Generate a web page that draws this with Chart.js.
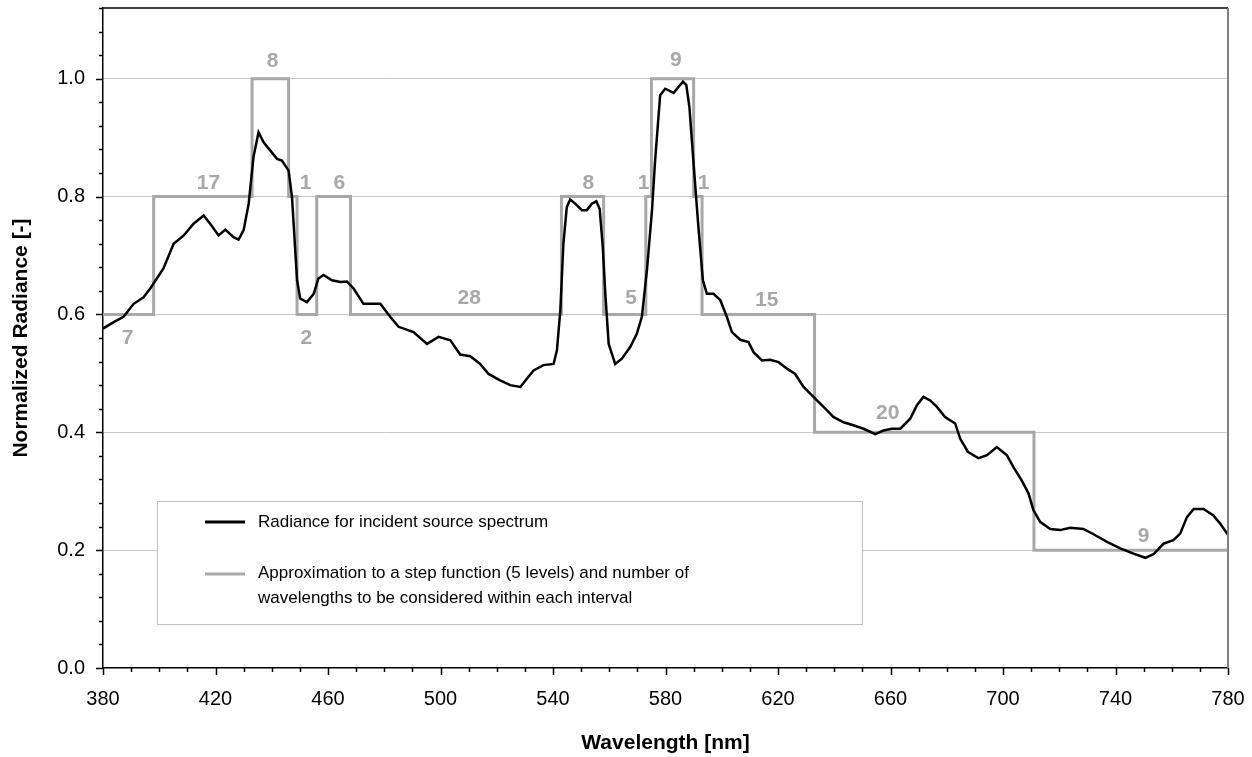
<!DOCTYPE html>
<html>
<head>
<meta charset="utf-8">
<script src="https://cdn.jsdelivr.net/npm/chart.js@4.4.0/dist/chart.umd.min.js"></script>
<style>
    html, body { margin: 0; padding: 0; background: #ffffff; }
    #wrap { width: 1252px; height: 757px; position: relative; }
</style>
</head>
<body>
<div id="wrap"><canvas id="spectrumChart"></canvas></div>
<script>
// radiance spectrum
const specWl = [
    380.0, 383.8, 387.3, 390.9, 394.4, 396.8, 401.5, 405.1, 408.7, 412.2,
    415.8, 418.1, 421.1, 423.5, 426.4, 428.2, 430.0, 431.8, 433.5, 435.3,
    437.1, 439.5, 441.9, 443.6, 446.0, 447.2, 449.0, 450.1, 452.5, 454.9,
    456.6, 458.4, 461.4, 464.4, 466.7, 469.1, 472.6, 476.2, 478.6, 482.1,
    485.1, 490.4, 495.2, 499.3, 503.5, 507.0, 510.6, 514.1, 517.1, 521.2,
    524.8, 528.4, 530.7, 533.1, 536.6, 540.2, 541.4, 542.6, 543.7, 544.9,
    546.1, 547.9, 550.3, 552.0, 553.8, 555.4, 556.6, 557.7, 558.6, 559.8,
    562.1, 564.5, 567.5, 569.8, 571.6, 573.4, 575.2, 576.3, 578.1, 579.9,
    582.9, 584.6, 586.2, 587.4, 588.5, 589.9, 591.7, 593.3, 594.7, 597.1,
    599.5, 601.8, 603.6, 606.6, 609.5, 611.3, 614.3, 617.2, 620.2, 623.2,
    626.1, 629.1, 632.6, 636.2, 639.7, 643.3, 646.8, 650.4, 654.6, 657.5,
    660.5, 663.5, 667.0, 669.4, 671.7, 674.1, 676.5, 679.4, 683.0, 684.8,
    687.5, 691.3, 694.3, 697.8, 701.4, 703.7, 706.7, 709.1, 710.8, 713.2,
    716.8, 720.3, 723.9, 728.6, 732.2, 737.0, 741.7, 746.4, 750.6, 753.5,
    757.1, 760.6, 763.0, 765.4, 767.8, 771.3, 774.8, 777.2, 780.0
];
const specVal = [
    0.576, 0.587, 0.596, 0.618, 0.629, 0.644, 0.678, 0.720, 0.734, 0.754,
    0.768, 0.754, 0.734, 0.744, 0.731, 0.727, 0.743, 0.788, 0.867, 0.909,
    0.892, 0.878, 0.864, 0.861, 0.844, 0.799, 0.658, 0.627, 0.621, 0.635,
    0.661, 0.667, 0.658, 0.655, 0.656, 0.644, 0.618, 0.618, 0.618, 0.596,
    0.579, 0.570, 0.550, 0.562, 0.556, 0.532, 0.529, 0.516, 0.499, 0.488,
    0.480, 0.477, 0.491, 0.505, 0.514, 0.516, 0.539, 0.607, 0.720, 0.782,
    0.795, 0.788, 0.777, 0.777, 0.788, 0.792, 0.779, 0.714, 0.635, 0.550,
    0.516, 0.525, 0.545, 0.567, 0.596, 0.675, 0.777, 0.861, 0.972, 0.983,
    0.976, 0.986, 0.995, 0.989, 0.952, 0.861, 0.748, 0.658, 0.635, 0.635,
    0.624, 0.596, 0.570, 0.557, 0.553, 0.536, 0.522, 0.523, 0.519, 0.508,
    0.499, 0.477, 0.460, 0.443, 0.426, 0.417, 0.412, 0.406, 0.397, 0.403,
    0.406, 0.406, 0.423, 0.446, 0.460, 0.454, 0.443, 0.426, 0.415, 0.389,
    0.367, 0.356, 0.361, 0.375, 0.361, 0.341, 0.318, 0.296, 0.268, 0.248,
    0.236, 0.234, 0.238, 0.236, 0.227, 0.214, 0.203, 0.194, 0.187, 0.193,
    0.211, 0.217, 0.228, 0.256, 0.270, 0.270, 0.259, 0.245, 0.226
];

// step approximation: interval edges and level inside each interval
const stepEdges = [380, 398, 433, 446, 449, 456, 468, 543, 558, 573, 575, 590, 593, 633, 711, 780];
const stepLevels = [0.6, 0.8, 1.0, 0.8, 0.6, 0.8, 0.6, 0.8, 0.6, 0.8, 1.0, 0.8, 0.6, 0.4, 0.2];

// number of wavelengths per interval, and where each number sits
const countText = ['7', '17', '8', '1', '2', '6', '28', '8', '5', '1', '9', '1', '15', '20', '9'];
const countWl = [388.7, 417.5, 440.3, 452.0, 452.3, 464.0, 510.2, 552.6, 567.8, 572.2, 583.7, 593.5, 616.0, 659.0, 750.0];
const countVal = [0.559, 0.822, 1.030, 0.822, 0.560, 0.822, 0.628, 0.823, 0.628, 0.823, 1.031, 0.823, 0.624, 0.432, 0.223];

const xMajorTicks = [380, 420, 460, 500, 540, 580, 620, 660, 700, 740, 780];
const yMajorTicks = [0, 0.2, 0.4, 0.6, 0.8, 1.0];

const legendLabels = [
    'Radiance for incident source spectrum',
    'Approximation to a step function (5 levels) and number of',
    'wavelengths to be considered within each interval'
];

const FONT = '"Liberation Sans", Arial, sans-serif';
const STEP_GRAY = '#a8a8a8';

Chart.defaults.font.family = FONT;
Chart.defaults.color = '#000000';

const spectrumPoints = specWl.map((w, i) => ({ x: w, y: specVal[i] }));
const stepPoints = stepLevels.map((v, i) => ({ x: stepEdges[i], y: v }));
stepPoints.push({ x: stepEdges[stepEdges.length - 1], y: stepLevels[stepLevels.length - 1] });

const decorations = {
    id: 'decorations',
    afterDatasetsDraw(chart) {
        const { ctx, chartArea: a, scales: { x, y } } = chart;
        ctx.save();

        // interval counts
        ctx.font = 'bold 21px ' + FONT;
        ctx.fillStyle = STEP_GRAY;
        ctx.textAlign = 'center';
        ctx.textBaseline = 'middle';
        countText.forEach((t, i) => {
            ctx.fillText(t, x.getPixelForValue(countWl[i]), y.getPixelForValue(countVal[i]));
        });

        // frame: black top, gray right
        ctx.lineWidth = 1.5;
        ctx.strokeStyle = '#000000';
        ctx.beginPath();
        ctx.moveTo(a.left, a.top);
        ctx.lineTo(a.right, a.top);
        ctx.stroke();
        ctx.lineWidth = 2;
        ctx.strokeStyle = '#808080';
        ctx.beginPath();
        ctx.moveTo(a.right, a.top);
        ctx.lineTo(a.right, a.bottom);
        ctx.stroke();

        // tick marks (major long, minor short)
        ctx.strokeStyle = '#000000';
        ctx.lineWidth = 1.5;
        ctx.beginPath();
        for (let k = 0; k <= 28; k++) {
            const py = Math.round(y.getPixelForValue(k * 0.04)) + 0.5;
            const len = k % 5 === 0 ? 7 : 4;
            ctx.moveTo(a.left, py);
            ctx.lineTo(a.left - len, py);
        }
        for (let k = 0; k <= 40; k++) {
            const px = Math.round(x.getPixelForValue(380 + k * 10)) + 0.5;
            const len = k % 4 === 0 ? 7 : 4;
            ctx.moveTo(px, a.bottom);
            ctx.lineTo(px, a.bottom + len);
        }
        ctx.stroke();

        // legend box
        const bx = 157, by = 501, bw = 705, bh = 123;
        ctx.fillStyle = '#ffffff';
        ctx.fillRect(bx, by, bw, bh);
        ctx.strokeStyle = '#c0c0c0';
        ctx.lineWidth = 1;
        ctx.strokeRect(bx + 0.5, by + 0.5, bw, bh);

        ctx.lineWidth = 3;
        ctx.strokeStyle = '#000000';
        ctx.beginPath();
        ctx.moveTo(205, 522);
        ctx.lineTo(245, 522);
        ctx.stroke();
        ctx.strokeStyle = STEP_GRAY;
        ctx.beginPath();
        ctx.moveTo(205, 574);
        ctx.lineTo(245, 574);
        ctx.stroke();

        ctx.font = '17px ' + FONT;
        ctx.fillStyle = '#000000';
        ctx.textAlign = 'left';
        ctx.fillText(legendLabels[0], 258, 522);
        ctx.fillText(legendLabels[1], 258, 573);
        ctx.fillText(legendLabels[2], 258, 598);

        ctx.restore();
    }
};

new Chart(document.getElementById('spectrumChart').getContext('2d'), {
    type: 'line',
    data: {
        datasets: [{
            label: legendLabels[0],
            data: spectrumPoints,
            borderColor: '#000000',
            borderWidth: 2.5,
            pointRadius: 0,
            tension: 0,
            fill: false,
            order: 0
        }, {
            label: 'step',
            data: stepPoints,
            borderColor: STEP_GRAY,
            borderWidth: 3,
            pointRadius: 0,
            stepped: 'before',
            fill: false,
            order: 1
        }]
    },
    options: {
        responsive: true,
        maintainAspectRatio: false,
        animation: false,
        parsing: false,
        layout: {
            padding: { top: 8, right: 24, left: 0, bottom: 0 }
        },
        plugins: {
            legend: { display: false },
            tooltip: { enabled: false }
        },
        scales: {
            x: {
                type: 'linear',
                min: 380,
                max: 780,
                afterBuildTicks: s => { s.ticks = xMajorTicks.map(v => ({ value: v })); },
                afterFit: s => { s.height = 89; s.paddingLeft = 0; s.paddingRight = 0; },
                grid: { display: false, drawTicks: false },
                border: { display: true, color: '#000000', width: 1.5 },
                ticks: {
                    padding: 19,
                    font: { size: 20 },
                    color: '#000000',
                    maxRotation: 0,
                    callback: v => String(v)
                },
                title: {
                    display: true,
                    text: 'Wavelength [nm]',
                    font: { size: 21, weight: 'bold' },
                    color: '#000000',
                    padding: { top: 0, bottom: 1 }
                }
            },
            y: {
                type: 'linear',
                min: 0,
                max: 1.12,
                afterBuildTicks: s => { s.ticks = yMajorTicks.map(v => ({ value: v })); },
                afterFit: s => { s.width = 103; s.paddingTop = 0; s.paddingBottom = 0; },
                grid: {
                    drawTicks: false,
                    color: c => (c.tick && c.tick.value === 0) ? 'rgba(0,0,0,0)' : '#c8c8c8',
                    lineWidth: 1
                },
                border: { display: true, color: '#000000', width: 1.5 },
                ticks: {
                    padding: 18,
                    font: { size: 20 },
                    color: '#000000',
                    callback: v => v.toFixed(1)
                },
                title: {
                    display: true,
                    text: 'Normalized Radiance [-]',
                    font: { size: 21, weight: 'bold' },
                    color: '#000000',
                    padding: { top: 9, bottom: 0 }
                }
            }
        }
    },
    plugins: [decorations]
});
</script>
</body>
</html>
